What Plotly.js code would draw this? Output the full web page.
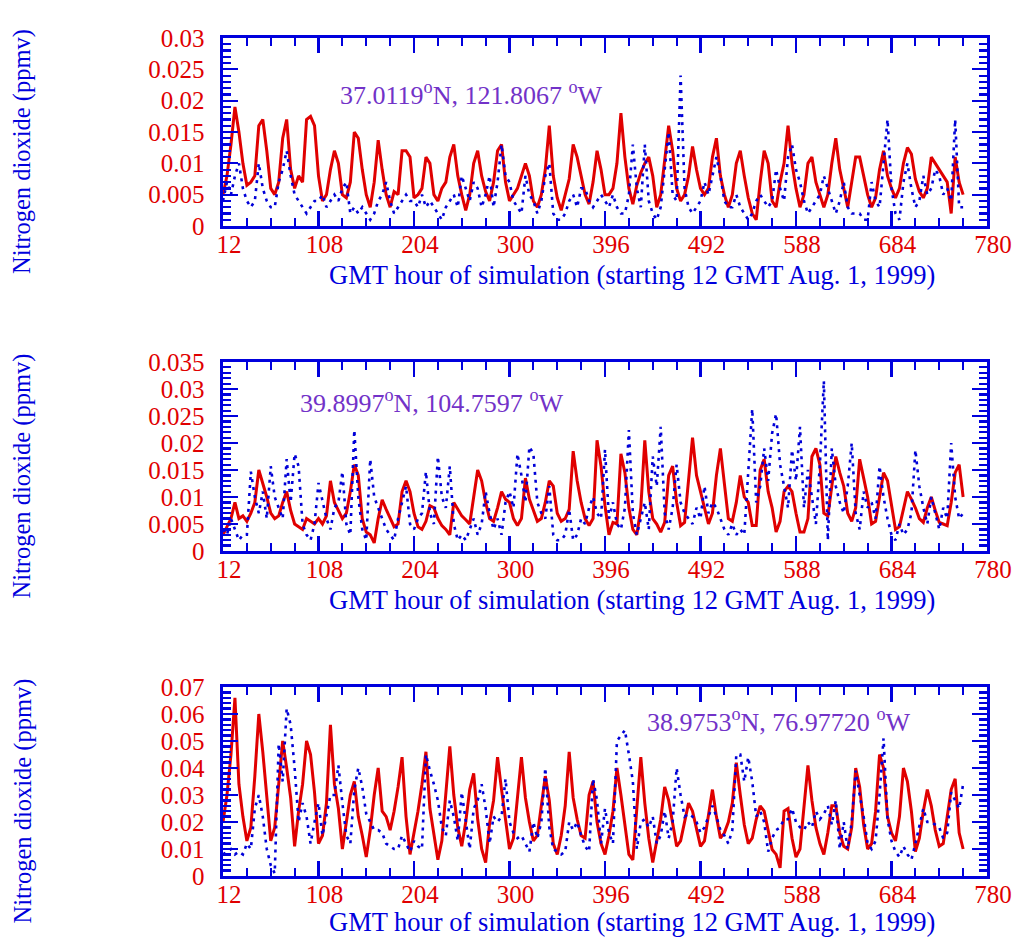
<!DOCTYPE html>
<html>
<head>
<meta charset="utf-8">
<script src="https://cdn.plot.ly/plotly-3.0.1.min.js"></script>
<style>html,body{margin:0;padding:0;background:#fff;}#chart{width:1021px;height:940px;}</style>
</head>
<body>
<div id="chart"></div>
<script>
// Hour grid of the readings (GMT hour of simulation), read every 4 hours
const HOUR_START = 12;
const HOUR_STEP = 4;
const X_TICK_START = 12, X_TICK_END = 780;

const XTITLE = 'GMT hour of simulation (starting 12 GMT Aug. 1, 1999)';
const YTITLE = 'Nitrogen dioxide (ppmv)';
const SITE_LABELS = [
  '37.0119<sup>o</sup>N, 121.8067 <sup>o</sup>W',
  '39.8997<sup>o</sup>N, 104.7597 <sup>o</sup>W',
  '38.9753<sup>o</sup>N, 76.97720 <sup>o</sup>W'
];

// Panel 1 (37.0119N, 121.8067W)
const p1Model = [
0.005,0.008,0.013,0.019,0.015,0.010, 0.0065,0.007,0.008,0.016,0.017,0.012,
0.006,0.005,0.007,0.014,0.017,0.009, 0.006,0.008,0.007,0.017,0.0175,0.016,
0.008,0.004,0.005,0.009,0.012,0.010, 0.005,0.0045,0.007,0.015,0.014,0.009,
0.005,0.003,0.007,0.0137,0.009,0.005, 0.003,0.0055,0.005,0.012,0.012,0.011,
0.0045,0.005,0.006,0.011,0.010,0.005, 0.004,0.006,0.007,0.011,0.013,0.008,
0.005,0.0025,0.005,0.010,0.012,0.008, 0.0055,0.004,0.007,0.012,0.013,0.007,
0.004,0.005,0.006,0.008,0.010,0.008, 0.004,0.003,0.005,0.009,0.016,0.008,
0.0045,0.0025,0.005,0.0075,0.013,0.011, 0.008,0.005,0.0035,0.007,0.012,0.009,
0.005,0.005,0.006,0.010,0.018,0.011, 0.006,0.0035,0.0065,0.0085,0.010,0.011,
0.008,0.003,0.005,0.011,0.016,0.012, 0.006,0.004,0.005,0.008,0.0127,0.009,
0.006,0.005,0.006,0.011,0.014,0.008, 0.005,0.003,0.005,0.010,0.012,0.008,
0.0045,0.002,0.001,0.007,0.012,0.010, 0.004,0.003,0.007,0.010,0.016,
0.010,0.006,0.003,0.005,0.010,0.011, 0.007,0.005,0.003,0.005,0.010,0.014,
0.009,0.006,0.003,0.007,0.011,0.011, 0.008,0.005,0.003,0.0045,0.009,0.012,
0.008,0.006,0.0045,0.006,0.010,0.0125, 0.0115,0.0075,0.0055,0.0045,0.006,0.011,
0.010,0.009,0.008,0.007,0.002,0.011, 0.007,0.005
];
const p1Obs = [
0.004,0.007,0.005,0.008,0.010,0.006, 0.004,0.003,0.004,0.010,0.006,0.004,
0.003,0.003,0.007,0.009,0.012,0.008, 0.005,0.004,0.003,0.002,0.003,0.004,
0.004,0.005,0.003,0.004,0.005,0.004, 0.006,0.007,0.002,0.003,0.002,0.003,
0.002,0.001,0.002,0.004,0.005,0.007, 0.004,0.002,0.003,0.004,0.005,0.004,
0.004,0.003,0.005,0.003,0.004,0.003, 0.002,0.001,0.003,0.004,0.005,0.003,
0.008,0.006,0.004,0.007,0.006,0.003, 0.005,0.008,0.003,0.007,0.013,0.008,
0.007,0.004,0.003,0.002,0.008,0.005, 0.004,0.002,0.004,0.008,0.010,0.002,
0.001,0.001,0.002,0.004,0.005,0.003, 0.006,0.006,0.004,0.003,0.004,0.005,
0.004,0.003,0.005,0.003,0.002,0.002, 0.005,0.013,0.006,0.003,0.013,0.004,
0.002,0.001,0.003,0.009,0.015,0.005, 0.004,0.024,0.006,0.003,0.002,0.003,
0.004,0.007,0.005,0.008,0.011,0.008, 0.004,0.003,0.003,0.005,0.003,0.002,
0.001,0.002,0.004,0.005,0.004,0.003, 0.004,0.009,0.006,0.004,0.011,
0.013,0.009,0.007,0.004,0.002,0.003, 0.004,0.005,0.008,0.006,0.004,0.002,
0.004,0.007,0.003,0.002,0.002,0.002, 0.001,0.001,0.007,0.004,0.003,0.010,
0.017,0.006,0.002,0.001,0.007,0.010, 0.006,0.003,0.004,0.008,0.005,0.006,
0.009,0.008,0.005,0.006,0.004,0.017, 0.003,0.003
];

// Panel 2 (39.8997N, 104.7597W)
const p2Model = [
0.003,0.0045,0.006,0.009,0.006,0.0065, 0.0055,0.007,0.009,0.015,0.0125,0.010,
0.007,0.006,0.0065,0.009,0.011,0.0075, 0.005,0.0045,0.004,0.006,0.0055,0.005,
0.006,0.005,0.0065,0.013,0.009,0.0075, 0.006,0.007,0.011,0.016,0.014,0.006,
0.0035,0.003,0.0015,0.006,0.0095,0.0077, 0.006,0.0045,0.005,0.011,0.013,0.011,
0.007,0.0045,0.004,0.0055,0.0084,0.008, 0.006,0.0047,0.004,0.003,0.009,0.0077,
0.0065,0.0058,0.005,0.010,0.015,0.013, 0.009,0.006,0.0055,0.008,0.011,0.0096,
0.009,0.006,0.0047,0.006,0.0135,0.0096, 0.0075,0.0055,0.006,0.009,0.013,0.012,
0.007,0.0055,0.006,0.0077,0.0185,0.013, 0.009,0.006,0.0047,0.006,0.0205,0.0157,
0.0084,0.003,0.0053,0.005,0.018,0.0145, 0.008,0.004,0.003,0.008,0.0205,0.011,
0.006,0.005,0.0035,0.0053,0.014,0.0157, 0.009,0.0047,0.0053,0.013,0.021,0.014,
0.011,0.008,0.005,0.007,0.014,0.019, 0.012,0.006,0.0055,0.009,0.014,0.010,
0.009,0.0047,0.0047,0.015,0.017,0.011, 0.008,0.0035,0.0055,0.011,0.012,
0.011,0.007,0.0035,0.0035,0.006,0.0175, 0.019,0.016,0.007,0.0065,0.012,0.0175,
0.0145,0.012,0.007,0.0055,0.008,0.017, 0.0135,0.010,0.005,0.0055,0.010,0.0145,
0.013,0.0084,0.004,0.0045,0.008,0.011, 0.0096,0.008,0.006,0.0053,0.008,0.010,
0.0075,0.0053,0.005,0.0047,0.009,0.0145, 0.016,0.010
];
const p2Obs = [
0.004,0.003,0.006,0.004,0.002,0.003, 0.003,0.0147,0.010,0.007,0.011,0.006,
0.0157,0.010,0.008,0.006,0.017,0.009, 0.018,0.0157,0.005,0.003,0.002,0.005,
0.0126,0.009,0.006,0.004,0.008,0.009, 0.0147,0.005,0.003,0.0224,0.010,0.004,
0.002,0.017,0.010,0.008,0.006,0.004, 0.003,0.002,0.006,0.009,0.012,0.005,
0.004,0.006,0.007,0.0147,0.007,0.005, 0.0175,0.010,0.008,0.0157,0.005,0.002,
0.003,0.002,0.004,0.006,0.003,0.005, 0.011,0.007,0.004,0.006,0.003,0.009,
0.011,0.008,0.018,0.014,0.009,0.0193, 0.018,0.009,0.007,0.006,0.012,0.003,
0.002,0.002,0.003,0.0077,0.002,0.003, 0.006,0.005,0.008,0.010,0.007,0.006,
0.0188,0.006,0.009,0.005,0.004,0.008, 0.0224,0.007,0.003,0.006,0.009,0.004,
0.0175,0.012,0.023,0.007,0.004,0.008, 0.016,0.009,0.007,0.006,0.005,0.008,
0.006,0.012,0.007,0.009,0.008,0.006, 0.004,0.003,0.005,0.003,0.004,0.003,
0.014,0.0263,0.009,0.012,0.019,0.013, 0.0218,0.0254,0.016,0.012,0.008,
0.0187,0.013,0.023,0.008,0.015,0.010, 0.005,0.016,0.0315,0.002,0.019,0.012,
0.009,0.007,0.012,0.020,0.007,0.004, 0.011,0.008,0.009,0.006,0.0157,0.010,
0.006,0.003,0.002,0.005,0.003,0.004, 0.007,0.0187,0.012,0.008,0.005,0.010,
0.007,0.004,0.008,0.006,0.020,0.010, 0.006,0.007
];

// Panel 3 (38.9753N, 76.97720W)
const p3Model = [
0.020,0.030,0.045,0.066,0.034,0.022, 0.013,0.018,0.037,0.060,0.046,0.030,
0.013,0.018,0.033,0.050,0.040,0.029, 0.011,0.024,0.034,0.050,0.045,0.031,
0.012,0.015,0.027,0.056,0.034,0.025, 0.010,0.0195,0.030,0.035,0.022,0.015,
0.007,0.017,0.030,0.040,0.024,0.022, 0.017,0.024,0.033,0.044,0.022,0.008,
0.016,0.024,0.034,0.046,0.025,0.015, 0.006,0.013,0.030,0.048,0.030,0.018,
0.011,0.020,0.032,0.038,0.021,0.010, 0.005,0.0195,0.028,0.044,0.032,0.021,
0.010,0.014,0.030,0.044,0.029,0.020, 0.013,0.015,0.026,0.037,0.028,0.012,
0.008,0.015,0.026,0.046,0.029,0.021, 0.015,0.014,0.030,0.035,0.020,0.012,
0.008,0.015,0.024,0.040,0.030,0.0195, 0.008,0.006,0.024,0.044,0.027,0.014,
0.005,0.013,0.021,0.033,0.028,0.0195, 0.011,0.013,0.0195,0.027,0.024,0.017,
0.011,0.013,0.022,0.032,0.022,0.014, 0.016,0.020,0.027,0.042,0.030,0.019,
0.012,0.014,0.021,0.026,0.024,0.017, 0.0098,0.008,0.003,0.024,0.025,
0.014,0.007,0.010,0.027,0.041,0.028, 0.018,0.012,0.008,0.016,0.026,0.026,
0.016,0.011,0.010,0.018,0.040,0.033, 0.019,0.010,0.012,0.024,0.045,0.040,
0.022,0.016,0.013,0.022,0.040,0.035, 0.024,0.009,0.014,0.024,0.032,0.026,
0.017,0.011,0.012,0.022,0.032,0.036, 0.016,0.010
];
const p3Obs = [
0.008,0.009,0.010,0.008,0.009,0.008, 0.012,0.010,0.025,0.030,0.022,0.010,
0.004,0.001,0.049,0.035,0.062,0.056, 0.040,0.020,0.027,0.022,0.012,0.020,
0.027,0.015,0.022,0.030,0.030,0.041, 0.027,0.015,0.012,0.032,0.040,0.033,
0.023,0.020,0.017,0.017,0.016,0.012, 0.011,0.010,0.010,0.015,0.012,0.009,
0.013,0.011,0.010,0.045,0.039,0.034, 0.028,0.018,0.015,0.028,0.022,0.013,
0.031,0.020,0.010,0.025,0.028,0.034, 0.025,0.012,0.022,0.020,0.022,0.036,
0.020,0.016,0.014,0.015,0.012,0.009, 0.020,0.014,0.020,0.040,0.018,0.010,
0.009,0.008,0.009,0.020,0.017,0.020, 0.015,0.011,0.009,0.036,0.028,0.012,
0.025,0.016,0.012,0.050,0.052,0.054, 0.045,0.035,0.010,0.020,0.021,0.018,
0.022,0.012,0.015,0.024,0.014,0.020, 0.040,0.030,0.022,0.023,0.022,0.020,
0.016,0.018,0.022,0.026,0.022,0.017, 0.015,0.012,0.017,0.045,0.045,0.035,
0.044,0.035,0.022,0.024,0.020,0.009, 0.014,0.017,0.018,0.021,0.021,
0.025,0.020,0.018,0.017,0.020,0.018, 0.024,0.021,0.023,0.026,0.019,0.028,
0.010,0.020,0.010,0.020,0.039,0.030, 0.022,0.012,0.010,0.013,0.030,0.051,
0.021,0.013,0.009,0.007,0.011,0.008, 0.006,0.012,0.018,0.025,0.020,0.020,
0.019,0.018,0.014,0.016,0.031,0.028, 0.025,0.034
];

// Y ranges / tick steps per panel
const Y_MAX = [0.03, 0.035, 0.07];
const Y_DTICK = [0.005, 0.005, 0.01];
const Y_MINOR = [0.001, 0.001, 0.002];
// label anchor positions (data coords) per panel
const LABEL_X = [128, 87, 436];
const LABEL_Y = [0.0211, 0.0276, 0.0577];

const RED = '#e00000';
const BLUE_LINE = '#0000d8';
const AXIS_BLUE = '#0000dd';
const PURPLE = '#7232c8';
const FONT = 'Liberation Serif, Times New Roman, serif';

const hoursFor = arr => arr.map((_, i) => HOUR_START + i * HOUR_STEP);

const models = [p1Model, p2Model, p3Model];
const obs = [p1Obs, p2Obs, p3Obs];
const traces = [];
for (let k = 0; k < 3; k++) {
  const xa = k === 0 ? 'x' : 'x' + (k + 1);
  const ya = k === 0 ? 'y' : 'y' + (k + 1);
  traces.push({x: hoursFor(models[k]), y: models[k], xaxis: xa, yaxis: ya, type: 'scatter', mode: 'lines',
    line: {color: RED, width: 3}, hoverinfo: 'skip'});
  traces.push({x: hoursFor(obs[k]), y: obs[k], xaxis: xa, yaxis: ya, type: 'scatter', mode: 'lines',
    line: {color: BLUE_LINE, width: 2.6, dash: '3px,5px'}, hoverinfo: 'skip'});
}

const T = 38, B = 64, L = 223, R = 34, H = 940;
const plotH = H - T - B;
const panelPx = [[38, 226], [362, 551], [687, 876]];
const xTitlePx = [275, 600, 922];
const dom = panelPx.map(([top, bot]) => [1 - (bot - T) / plotH, 1 - (top - T) / plotH]);

function xAxis(k) {
  return {
    domain: [0, 1], anchor: k === 0 ? 'y' : 'y' + (k + 1),
    range: [X_TICK_START, X_TICK_END], tick0: X_TICK_START, dtick: 96, tickmode: 'linear',
    ticks: 'inside', ticklen: 15, tickwidth: 2.2, tickcolor: AXIS_BLUE,
    showline: true, linecolor: AXIS_BLUE, linewidth: 2.6, mirror: 'allticks',
    showgrid: false, zeroline: false, ticklabelstandoff: -6, ticklabelshift: 6,
    tickfont: {family: FONT, size: 25, color: RED},
    minor: {tick0: X_TICK_START, dtick: 24, ticks: 'inside', ticklen: 8, tickwidth: 2.2, tickcolor: AXIS_BLUE, showgrid: false},
    automargin: false
  };
}
function yAxis(k) {
  return {
    domain: dom[k], anchor: k === 0 ? 'x' : 'x' + (k + 1),
    range: [0, Y_MAX[k]], tick0: 0, dtick: Y_DTICK[k], tickmode: 'linear',
    ticks: 'inside', ticklen: 15, tickwidth: 2.2, tickcolor: AXIS_BLUE,
    showline: true, linecolor: AXIS_BLUE, linewidth: 2.6, mirror: 'allticks',
    showgrid: false, zeroline: false, ticklabelstandoff: 11,
    tickfont: {family: FONT, size: 25, color: RED},
    minor: {tick0: 0, dtick: Y_MINOR[k], ticks: 'inside', ticklen: 8, tickwidth: 2.2, tickcolor: AXIS_BLUE, showgrid: false},
    automargin: false
  };
}

const annotations = [];
for (let k = 0; k < 3; k++) {
  const xa = k === 0 ? 'x' : 'x' + (k + 1);
  const ya = k === 0 ? 'y' : 'y' + (k + 1);
  annotations.push({xref: xa, yref: ya, x: LABEL_X[k], y: LABEL_Y[k], xanchor: 'left', yanchor: 'middle',
    text: SITE_LABELS[k], showarrow: false, font: {family: FONT, size: 26, color: PURPLE}});
  const midPx = (panelPx[k][0] + panelPx[k][1]) / 2 + 20;
  annotations.push({xref: 'paper', yref: 'paper', x: 0, xshift: 22 - L, y: 1 - (midPx - T) / plotH,
    xanchor: 'center', yanchor: 'middle', textangle: -90, text: YTITLE, showarrow: false,
    font: {family: FONT, size: 24.5, color: AXIS_BLUE}});
  annotations.push({xref: 'paper', yref: 'paper', x: 0, xshift: 632 - L, y: 1 - (xTitlePx[k] - T) / plotH,
    xanchor: 'center', yanchor: 'middle', text: XTITLE, showarrow: false,
    font: {family: FONT, size: 26.5, color: AXIS_BLUE}});
}

const layout = {
  width: 1021, height: 940,
  margin: {l: L, r: R, t: T, b: B},
  paper_bgcolor: '#ffffff', plot_bgcolor: '#ffffff',
  showlegend: false,
  xaxis: xAxis(0), xaxis2: xAxis(1), xaxis3: xAxis(2),
  yaxis: yAxis(0), yaxis2: yAxis(1), yaxis3: yAxis(2),
  annotations: annotations
};

Plotly.newPlot('chart', traces, layout, {displayModeBar: false, staticPlot: true});
</script>
</body>
</html>
